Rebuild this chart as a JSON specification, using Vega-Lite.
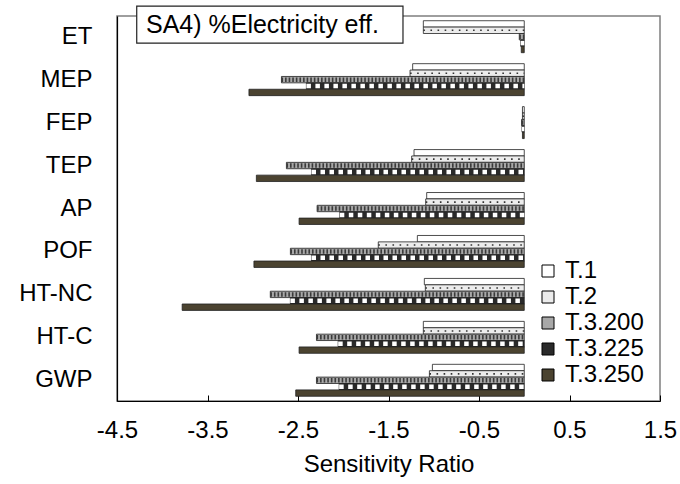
{
  "$schema": "https://vega.github.io/schema/vega-lite/v6.json",
  "autosize": {"type": "none"},
  "padding": {"left": 117, "top": 16, "right": 20, "bottom": 83},
  "width": 543,
  "height": 385,
  "background": "white",
  "config": {
    "font": "Liberation Sans",
    "view": {"stroke": "#7f7f7f", "strokeWidth": 1.5},
    "locale": {"number": {"decimal": ".", "thousands": ",", "grouping": [3], "currency": ["$", ""], "minus": "-"}}
  },
  "datasets": {
    "bars": [
      {"category": "ET", "series": "T.1", "value": -1.115},
      {"category": "ET", "series": "T.2", "value": -1.115},
      {"category": "ET", "series": "T.3.200", "value": -0.055},
      {"category": "ET", "series": "T.3.225", "value": -0.04},
      {"category": "ET", "series": "T.3.250", "value": -0.033},
      {"category": "MEP", "series": "T.1", "value": -1.233},
      {"category": "MEP", "series": "T.2", "value": -1.262},
      {"category": "MEP", "series": "T.3.200", "value": -2.683},
      {"category": "MEP", "series": "T.3.225", "value": -2.407},
      {"category": "MEP", "series": "T.3.250", "value": -3.042},
      {"category": "FEP", "series": "T.1", "value": -0.02},
      {"category": "FEP", "series": "T.2", "value": -0.02},
      {"category": "FEP", "series": "T.3.200", "value": -0.03},
      {"category": "FEP", "series": "T.3.225", "value": -0.025},
      {"category": "FEP", "series": "T.3.250", "value": -0.02},
      {"category": "TEP", "series": "T.1", "value": -1.218},
      {"category": "TEP", "series": "T.2", "value": -1.244},
      {"category": "TEP", "series": "T.3.200", "value": -2.628},
      {"category": "TEP", "series": "T.3.225", "value": -2.351},
      {"category": "TEP", "series": "T.3.250", "value": -2.96},
      {"category": "AP", "series": "T.1", "value": -1.078},
      {"category": "AP", "series": "T.2", "value": -1.089},
      {"category": "AP", "series": "T.3.200", "value": -2.289},
      {"category": "AP", "series": "T.3.225", "value": -2.038},
      {"category": "AP", "series": "T.3.250", "value": -2.488},
      {"category": "POF", "series": "T.1", "value": -1.181},
      {"category": "POF", "series": "T.2", "value": -1.613},
      {"category": "POF", "series": "T.3.200", "value": -2.584},
      {"category": "POF", "series": "T.3.225", "value": -2.351},
      {"category": "POF", "series": "T.3.250", "value": -2.987},
      {"category": "HT-NC", "series": "T.1", "value": -1.104},
      {"category": "HT-NC", "series": "T.2", "value": -1.093},
      {"category": "HT-NC", "series": "T.3.200", "value": -2.806},
      {"category": "HT-NC", "series": "T.3.225", "value": -2.584},
      {"category": "HT-NC", "series": "T.3.250", "value": -3.78},
      {"category": "HT-C", "series": "T.1", "value": -1.115},
      {"category": "HT-C", "series": "T.2", "value": -1.115},
      {"category": "HT-C", "series": "T.3.200", "value": -2.296},
      {"category": "HT-C", "series": "T.3.225", "value": -2.056},
      {"category": "HT-C", "series": "T.3.250", "value": -2.488},
      {"category": "GWP", "series": "T.1", "value": -1.015},
      {"category": "GWP", "series": "T.2", "value": -1.048},
      {"category": "GWP", "series": "T.3.200", "value": -2.296},
      {"category": "GWP", "series": "T.3.225", "value": -2.045},
      {"category": "GWP", "series": "T.3.250", "value": -2.525}
    ],
    "note": [{"label": "SA4) %Electricity eff."}]
  },
  "layer": [
    {
      "data": {"name": "bars"},
      "mark": {"type": "bar", "stroke": "#222222", "strokeWidth": 0.8},
      "encoding": {
        "y": {
          "field": "category",
          "type": "nominal",
          "sort": ["ET", "MEP", "FEP", "TEP", "AP", "POF", "HT-NC", "HT-C", "GWP"],
          "scale": {"paddingInner": 0.256, "paddingOuter": 0.11},
          "axis": {
            "title": null,
            "ticks": false,
            "labelFontSize": 24,
            "labelColor": "black",
            "labelPadding": 25,
            "domainColor": "black",
            "domainWidth": 1.2
          }
        },
        "yOffset": {
          "field": "series",
          "type": "nominal",
          "sort": ["T.1", "T.2", "T.3.200", "T.3.225", "T.3.250"],
          "scale": {"paddingInner": 0, "paddingOuter": 0}
        },
        "x": {
          "field": "value",
          "type": "quantitative",
          "scale": {"domain": [-4.5, 1.5], "nice": false, "zero": false},
          "axis": {
            "values": [-4.5, -3.5, -2.5, -1.5, -0.5, 0.5, 1.5],
            "format": ".1f",
            "grid": false,
            "title": "Sensitivity Ratio",
            "titleFontSize": 24,
            "titleFontWeight": "normal",
            "titleColor": "black",
            "titlePadding": 10,
            "labelFontSize": 24,
            "labelColor": "black",
            "labelPadding": 23,
            "labelFlush": false,
            "labelOverlap": false,
            "tickSize": -6,
            "tickColor": "black",
            "domainColor": "black",
            "domainWidth": 1.2
          }
        },
        "x2": {"datum": 0},
        "color": {
          "field": "series",
          "type": "nominal",
          "scale": {
            "domain": ["T.1", "T.2", "T.3.200", "T.3.225", "T.3.250"],
            "range": ["#ffffff", "#ececec", "#a8a8a8", "#2a2a2a", "#4b4330"]
          },
          "legend": {
            "orient": "none",
            "legendX": 419,
            "legendY": 243,
            "title": null,
            "symbolType": "square",
            "symbolSize": 144,
            "symbolStrokeColor": "black",
            "symbolStrokeWidth": 1,
            "labelFontSize": 24,
            "labelColor": "black",
            "labelOffset": 5,
            "rowPadding": 2,
            "padding": 0
          }
        }
      }
    },
    {
      "data": {"name": "bars"},
      "transform": [{"filter": "datum.series === 'T.2'"}],
      "mark": {"type": "rule", "color": "#333333", "strokeWidth": 1.6, "strokeDash": [1.6, 5.5]},
      "encoding": {
        "y": {"field": "category", "type": "nominal", "sort": ["ET", "MEP", "FEP", "TEP", "AP", "POF", "HT-NC", "HT-C", "GWP"]},
        "yOffset": {"field": "series", "type": "nominal", "sort": ["T.1", "T.2", "T.3.200", "T.3.225", "T.3.250"]},
        "x": {"field": "value", "type": "quantitative"},
        "x2": {"datum": 0}
      }
    },
    {
      "data": {"name": "bars"},
      "transform": [{"filter": "datum.series === 'T.3.200'"}],
      "mark": {"type": "rule", "color": "#3a3a3a", "strokeWidth": 4.5, "strokeDash": [1.6, 2]},
      "encoding": {
        "y": {"field": "category", "type": "nominal", "sort": ["ET", "MEP", "FEP", "TEP", "AP", "POF", "HT-NC", "HT-C", "GWP"]},
        "yOffset": {"field": "series", "type": "nominal", "sort": ["T.1", "T.2", "T.3.200", "T.3.225", "T.3.250"]},
        "x": {"field": "value", "type": "quantitative"},
        "x2": {"datum": 0}
      }
    },
    {
      "data": {"name": "bars"},
      "transform": [{"filter": "datum.series === 'T.3.225'"}],
      "mark": {"type": "rule", "color": "#ffffff", "strokeWidth": 4.5, "strokeDash": [4.5, 4.5]},
      "encoding": {
        "y": {"field": "category", "type": "nominal", "sort": ["ET", "MEP", "FEP", "TEP", "AP", "POF", "HT-NC", "HT-C", "GWP"]},
        "yOffset": {"field": "series", "type": "nominal", "sort": ["T.1", "T.2", "T.3.200", "T.3.225", "T.3.250"]},
        "x": {"field": "value", "type": "quantitative"},
        "x2": {"datum": 0}
      }
    },
    {
      "mark": {"type": "rule", "color": "black", "strokeWidth": 1.5},
      "encoding": {"x": {"datum": 0}}
    },
    {
      "data": {"name": "note"},
      "mark": {"type": "rect", "fill": "white", "stroke": "#222222", "strokeWidth": 1.2},
      "encoding": {
        "x": {"datum": -4.282},
        "x2": {"datum": -1.34},
        "y": {"datum": "ET", "bandPosition": -0.46},
        "y2": {"datum": "ET", "bandPosition": 0.7}
      }
    },
    {
      "data": {"name": "note"},
      "mark": {"type": "text", "align": "left", "baseline": "middle", "fontSize": 25, "color": "black"},
      "encoding": {
        "x": {"datum": -4.18},
        "y": {"datum": "ET", "bandPosition": 0.13},
        "text": {"field": "label"}
      }
    }
  ]
}
